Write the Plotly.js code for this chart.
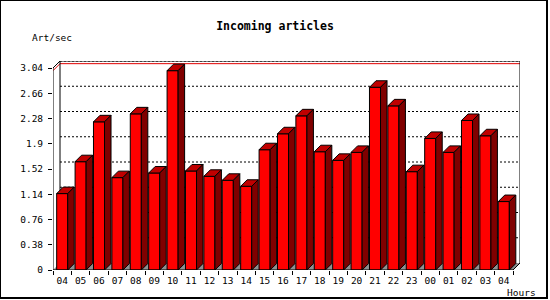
<!DOCTYPE html>
<html>
<head>
<meta charset="utf-8">
<script src="https://cdn.plot.ly/plotly-3.0.1.min.js"></script>
<style>html,body{margin:0;padding:0;background:#fff;}#chart{width:550px;height:300px;}</style>
</head>
<body>
<div id="chart"></div>
<script>
// ---- data ----
const hours = ["04","05","06","07","08","09","10","11","12","13","14","15","16","17","18","19","20","21","22","23","00","01","02","03","04"];
const artPerSec = [1.15,1.63,2.23,1.39,2.35,1.46,3.00,1.49,1.41,1.35,1.26,1.81,2.05,2.32,1.78,1.65,1.77,2.75,2.47,1.48,1.98,1.77,2.25,2.02,1.03];
const yTickVals = [0,0.38,0.76,1.14,1.52,1.9,2.28,2.66,3.04];
const yTickText = ["0","0.38","0.76","1.14","1.52","1.9","2.28","2.66","3.04"];

// ---- geometry ----
const W = 550, H = 300;
const M = {l:53, r:30, t:61, b:30};
const plotW = W - M.l - M.r, plotH = H - M.t - M.b;
const slotPx = 18.4;
const xr = [-0.5, -0.5 + plotW / slotPx];
const frameDepth = 7;            // px
const barDepth = 6.5;            // px
const yMaxTick = yTickVals[yTickVals.length - 1];
const yTop = yMaxTick / ((plotH - frameDepth) / plotH);
const ux = slotPx, uy = plotH / yTop;
const dxF = frameDepth / ux, dyF = frameDepth / uy;
const dxB = barDepth / ux, dyB = barDepth / uy;
const bw = 0.6;
const xIdx = hours.map((_, i) => i);
const xEnd = hours.length - 0.5;
const vMax = Math.max(...artPerSec);

// top and side faces
const topX = [], topY = [], sideX = [], sideY = [];
artPerSec.forEach((v, i) => {
  const a = i - bw / 2, b = i + bw / 2;
  topX.push(a, b, b + dxB, a + dxB, a, null);
  topY.push(v, v, v + dyB, v + dyB, v, null);
  sideX.push(b, b + dxB, b + dxB, b, b, null);
  sideY.push(0, dyB, v + dyB, v, 0, null);
});

const traces = [
  {type:'bar', x:xIdx, y:artPerSec, width:bw,
   marker:{color:'#ff0000', line:{color:'#000', width:1}}, hoverinfo:'skip'},
  {type:'scatter', mode:'lines', x:topX, y:topY, fill:'toself', fillcolor:'#c00000',
   line:{color:'#000', width:1}, hoverinfo:'skip'},
  {type:'scatter', mode:'lines', x:sideX, y:sideY, fill:'toself', fillcolor:'#800000',
   line:{color:'#000', width:1}, hoverinfo:'skip'}
];

const shapes = [];
// floor
shapes.push({type:'path', layer:'between', xref:'x', yref:'y',
  path:`M${xr[0]},0 L${xEnd},0 L${xEnd + dxF},${dyF} L${xr[0] + dxF},${dyF} Z`,
  fillcolor:'#909090', line:{width:0}});
// dotted grid on back plane
yTickVals.slice(1).forEach(t => {
  shapes.push({type:'line', layer:'between', xref:'x', yref:'y',
    x0:xr[0] + dxF, x1:xr[1], y0:t + dyF, y1:t + dyF,
    line:{color:'#000', width:1, dash:'2px,2px'}});
});
// red max line (3D)
shapes.push({type:'path', layer:'between', xref:'x', yref:'y',
  path:`M${xr[0]},${vMax} L${xr[0] + dxF},${vMax + dyF} L${xr[1]},${vMax + dyF}`,
  line:{color:'#e00000', width:1}});
const L = (x0,y0,x1,y1,layer) => shapes.push({type:'line', layer:layer||'above', xref:'x', yref:'y',
  x0, y0, x1, y1, line:{color:'#000', width:1}});
// frame
L(xr[0], 0, xr[0], yMaxTick);                       // front y axis
L(xr[0], yMaxTick, xr[0] + dxF, yTop);             // top-left diag
L(xr[0] + dxF, yTop, xr[1], yTop);                 // top edge
L(xr[0] + dxF, dyF, xr[0] + dxF, yTop, 'between'); // back left edge
L(xr[1], dyF, xr[1], yTop);                        // right edge
L(xEnd, 0, xr[1], dyF);                            // bottom-right diag
L(xr[0], 0, xEnd, 0);                              // front x axis
// outer border
shapes.push({type:'rect', xref:'paper', yref:'paper',
  x0:(0 - M.l) / plotW, x1:(547 - M.l) / plotW,
  y0:(H - M.b - 298) / plotH, y1:(H - M.b - 0) / plotH,
  line:{color:'#000', width:2}, fillcolor:'rgba(0,0,0,0)', layer:'above'});

const tickFont = {family:'DejaVu Sans Mono', size:9.5, color:'#000'};

const layout = {
  width:W, height:H, margin:M,
  paper_bgcolor:'#fff', plot_bgcolor:'#fff',
  showlegend:false,
  title:{text:'Incoming articles', font:{family:'DejaVu Sans Mono', size:11.5, weight:'bold', color:'#000'},
         xref:'container', x:0.5, xanchor:'center', yref:'container', y:1 - 26/H, yanchor:'middle'},
  xaxis:{range:xr, showgrid:false, zeroline:false, showline:false,
         tickvals:xIdx, ticktext:hours, ticks:'outside', ticklen:2, tickcolor:'rgba(0,0,0,0)',
         tickfont:tickFont, tickangle:0,
         minor:{ticks:'outside', ticklen:4, tickcolor:'#000', tickwidth:1, tick0:-0.5, dtick:1, showgrid:false}},
  yaxis:{range:[0, yTop], showgrid:false, zeroline:false, showline:false,
         tickvals:yTickVals, ticktext:yTickText, ticks:'outside', ticklen:4, tickcolor:'#000', tickwidth:1,
         tickfont:tickFont, ticklabelstandoff:3},
  shapes:shapes,
  annotations:[
    {text:'Art/sec', xref:'paper', yref:'paper', x:(30 - M.l) / plotW, y:(H - M.b - 37) / plotH,
     xanchor:'left', yanchor:'middle', showarrow:false, font:tickFont},
    {text:'Hours', xref:'paper', yref:'paper', x:(505 - M.l) / plotW, y:(H - M.b - 292) / plotH,
     xanchor:'left', yanchor:'middle', showarrow:false, font:tickFont}
  ]
};

Plotly.newPlot('chart', traces, layout, {staticPlot:true, displayModeBar:false});
</script>
</body>
</html>
